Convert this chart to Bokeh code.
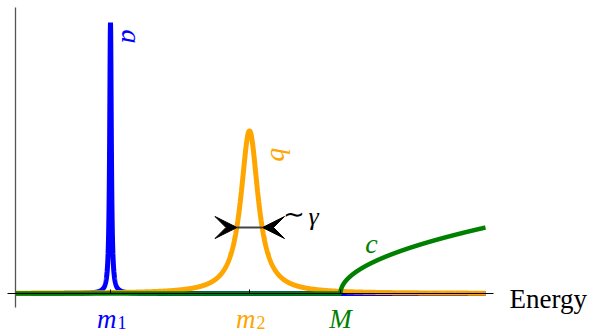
import numpy as np
from bokeh.plotting import figure
from bokeh.models import Range1d, Arrow, VeeHead, Label
from bokeh.embed import file_html
from bokeh.resources import INLINE

# --- data (energy units, arbitrary intensity) ---
masses = [0.95, 2.34, 3.25]          # m1, m2, M
mass_labels = ["m", "m", "M"]
mass_subs = ["1", "2", ""]
colors = ["#0000FF", "#FFA500", "#008000"]
curve_names = ["a", "b", "c"]
peak_heights = [1.0, 0.60]            # heights of the two resonances
peak_widths = [0.010, 0.105]          # half widths of the two resonances
threshold_coeff = 0.2022              # sqrt rise above threshold M
e_max = 4.70
arrow_level = 0.2435                  # level of the width marker

E = np.linspace(0.0, e_max, 4701)
blue = peak_heights[0] * peak_widths[0]**2 / ((E - masses[0])**2 + peak_widths[0]**2)
orange = peak_heights[1] * peak_widths[1]**2 / ((E - masses[1])**2 + peak_widths[1]**2)
green = threshold_coeff * np.sqrt(np.clip(E - masses[2], 0, None))

W, H = 594, 333
xr = Range1d(-0.15, 5.79)
yr = Range1d(-40 / 271, 293 / 271)
p = figure(width=W, height=H, x_range=xr, y_range=yr, output_backend="svg",
           toolbar_location=None, min_border=0)
p.axis.visible = False
p.grid.visible = False
p.outline_line_color = None
p.background_fill_color = "white"
p.border_fill_color = "white"

px = (xr.end - xr.start) / W
py = (yr.end - yr.start) / H

p.line(E, blue, line_color=colors[0], line_width=5)
p.line(E, orange, line_color=colors[1], line_width=5)
p.line(E, green, line_color=colors[2], line_width=4.5)

# axes
p.segment(x0=[0], y0=[(293 - 7) / 271], x1=[0], y1=[-14 * py], line_color="#555555", line_width=1.3)
p.segment(x0=[-0.08], y0=[0], x1=[4.78], y1=[0], line_color="black", line_width=1.2)
p.segment(x0=masses, y0=[0] * 3, x1=masses, y1=[4 * py] * 3, line_color="black", line_width=1)

SERIF = "Liberation Serif"


def lab(x, y, text, color="black", size="28px", style="normal", align="left",
        baseline="alphabetic", angle=0.0):
    p.add_layout(Label(x=x, y=y, text=text, text_color=color, text_font=SERIF,
                       text_font_size=size, text_font_style=style, text_align=align,
                       text_baseline=baseline, angle=angle))


# tick labels
for m, t, sub, c in zip(masses, mass_labels, mass_subs, colors):
    if sub:
        lab(m + 6 * px, -25 * py, t, c, "27px", "italic", "right")
        lab(m + 7 * px, -29 * py, sub, c, "18px", "normal", "left")
    else:
        lab(m, -25 * py, t, c, "27px", "italic", "center")

lab(4.94, -5 * py, "Energy", "black", "27px")

# curve names
lab(masses[0] + 0.21, (293 - 36) / 271, curve_names[0], colors[0], "28px", "italic",
    "center", "middle", -np.pi / 2)
lab(masses[1] + 0.31, (293 - 154) / 271, curve_names[1], colors[1], "28px", "italic",
    "center", "middle", -np.pi / 2)
lab(3.56, (293 - 243) / 271, curve_names[2], colors[2], "28px", "italic",
    "center", "middle")

# width marker
tip_l, tip_r = masses[1] - 0.125, masses[1] + 0.13
p.segment(x0=[tip_l], y0=[arrow_level], x1=[tip_r], y1=[arrow_level],
          line_color="#444444", line_width=2)
p.add_layout(Arrow(end=VeeHead(size=22, fill_color="black", line_color="black"),
                   x_start=tip_l - 0.22, y_start=arrow_level, x_end=tip_l, y_end=arrow_level,
                   line_width=0, line_alpha=0))
p.add_layout(Arrow(end=VeeHead(size=22, fill_color="black", line_color="black"),
                   x_start=tip_r + 0.23, y_start=arrow_level, x_end=tip_r, y_end=arrow_level,
                   line_width=0, line_alpha=0))
lab(2.67, arrow_level + 13 * py, "∼", "black", "26px", "normal", "left", "middle")
lab(2.93, arrow_level + 11 * py, "γ", "black", "26px", "italic", "left", "middle")

open("out.html", "w").write(file_html(p, INLINE))
